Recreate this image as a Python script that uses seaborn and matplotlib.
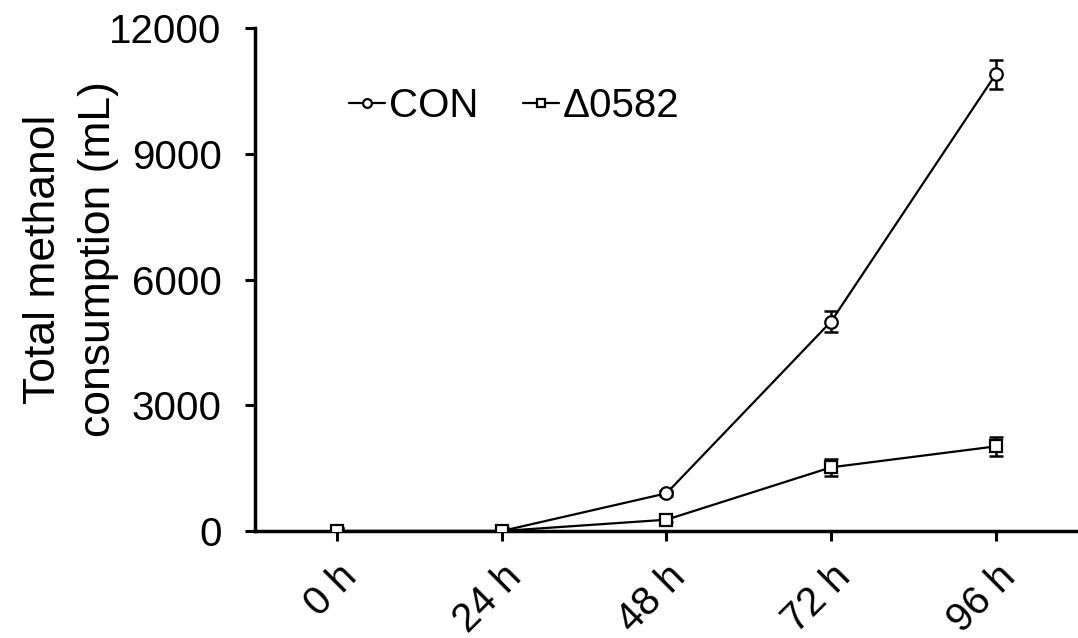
import matplotlib
matplotlib.use("Agg")
import matplotlib.pyplot as plt
import numpy as np
import pandas as pd
import seaborn as sns

times = ["0 h", "24 h", "48 h", "72 h", "96 h"]
con = [0, 0, 900, 5000, 10900]
con_err = [60, 60, 60, 250, 350]
mut = [0, 0, 270, 1520, 2020]
mut_err = [60, 60, 60, 200, 220]

df = pd.DataFrame({
    "time": list(range(len(times))) * 2,
    "value": con + mut,
    "group": ["CON"] * len(times) + ["\u03940582"] * len(times),
})

sns.set_style("ticks")
plt.rcParams["font.family"] = ["Liberation Sans", "DejaVu Sans"]
plt.rcParams["text.color"] = "black"
plt.rcParams["axes.labelcolor"] = "black"
plt.rcParams["xtick.color"] = "black"
plt.rcParams["ytick.color"] = "black"
plt.rcParams["axes.edgecolor"] = "black"

fig = plt.figure(figsize=(10.78, 6.38), dpi=100)
ax = fig.add_axes([0.2365, 0.1677, 0.7635, 0.788])

x = np.arange(len(times))
ax.errorbar(x, con, yerr=con_err, fmt="none", ecolor="black", elinewidth=1.8,
            capsize=5, capthick=1.8, zorder=2)
ax.errorbar(x, mut, yerr=mut_err, fmt="none", ecolor="black", elinewidth=1.8,
            capsize=5, capthick=1.8, zorder=2)

sns.lineplot(data=df, x="time", y="value", hue="group", style="group",
             palette=["black", "black"], markers=["o", "s"], dashes=False,
             markersize=9, markerfacecolor="white", markeredgecolor="black",
             markeredgewidth=1.6, linewidth=1.6, ax=ax, zorder=3)

ax.set_xlim(-0.5, 4.5)
ax.set_ylim(0, 12000)
ax.set_yticks([0, 3000, 6000, 9000, 12000])
ax.set_xticks(x)
ax.set_xticklabels(times, rotation=45, ha="right", rotation_mode="anchor")
ax.tick_params(axis="both", labelsize=29, width=2.2, length=7, direction="out",
               colors="black")
ax.tick_params(axis="y", pad=17)
ax.tick_params(axis="x", pad=12)
for s in ["left", "bottom"]:
    ax.spines[s].set_linewidth(2.5)
    ax.spines[s].set_color("black")
sns.despine(ax=ax)

ax.set_xlabel("")
ax.set_ylabel("Total methanol\nconsumption (mL)", fontsize=32, color="black",
              linespacing=1.45)
ax.yaxis.set_label_coords(-0.165, 0.54)

leg = ax.legend(loc="upper left", bbox_to_anchor=(0.07, 0.955), ncol=2, frameon=False,
                fontsize=29, handlelength=0.9, handletextpad=0.1, columnspacing=1.1,
                markerscale=0.7)
for t in leg.get_texts():
    t.set_color("black")

fig.savefig("out.png", dpi=100)
